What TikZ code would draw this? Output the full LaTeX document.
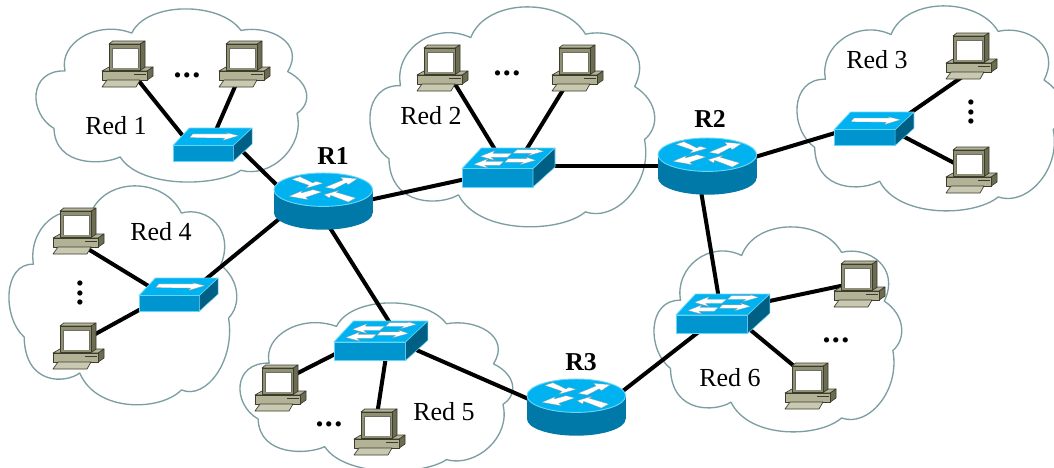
\documentclass[tikz,border=0pt]{standalone}
\usepackage{fontspec}
\setmainfont{Liberation Serif}
\definecolor{cloudc}{HTML}{7C9EA3}
\definecolor{swtop}{HTML}{00B2F0}
\definecolor{swfront}{HTML}{0095CF}
\definecolor{swside}{HTML}{005F85}
\definecolor{swedge}{HTML}{66D6F8}
\definecolor{rtside}{HTML}{0078A8}
\definecolor{pcline}{HTML}{3C3C2C}
\definecolor{pctop}{HTML}{B4B49A}
\definecolor{pcfront}{HTML}{8F8F74}
\definecolor{pcside}{HTML}{6C6C54}
\definecolor{pcbase}{HTML}{B2B297}
\definecolor{pckey}{HTML}{C9C9B2}
\tikzset{
  cloudline/.style={draw=cloudc,line width=1pt,fill=white,line join=round},
  wire/.style={draw=black,line width=3pt},
  lbl/.style={font=\fontsize{19.5}{21}\selectfont,inner sep=0pt},
  rlbl/.style={font=\fontsize{19.3}{21}\selectfont\bfseries,inner sep=0pt},
  dotlbl/.style={font=\fontsize{24}{25}\selectfont\bfseries,inner sep=0pt,outer sep=0pt},
  compbox/.style={anchor=north west,inner sep=0pt,outer sep=0pt,minimum width=38.25pt,minimum height=34.5pt},
  swbox/.style={anchor=north west,inner sep=0pt,outer sep=0pt,minimum width=#1*0.75pt,minimum height=#1*0.315pt},
  routerbox/.style={anchor=north west,inner sep=0pt,outer sep=0pt,minimum width=74pt,minimum height=42.5pt},
  pcpart/.style={draw=pcline,line width=0.5pt,line join=round},
  swarrow/.style={fill=white,draw=black!45,line width=0.15pt},
  computer/.pic={
    \path[pcpart,fill=pctop] (0,30)--(7,26)--(51,26)--(45.3,30)--cycle;
    \path[pcpart,fill=pcside] (45.3,30)--(51,26)--(51,35)--(45.3,39)--cycle;
    \path[pcpart,fill=pcbase] (0,30) rectangle (45.3,39);
    \path[pcpart,fill=pckey] (0,46)--(5,39)--(38,39)--(34,46)--cycle;
    \draw[pcline,line width=0.8pt] (32,33.7)--(44,33.7);
    \path[pcpart,fill=pctop] (7,3)--(10.7,0)--(43,0)--(38.3,3)--cycle;
    \path[pcpart,fill=pcside] (38.3,3)--(43,0)--(43,26.3)--(38.3,29.3)--cycle;
    \path[pcpart,fill=pcfront] (7,3) rectangle (38.3,29.3);
    \fill[pcline!75!white] (9.5,6.5) rectangle (36.5,27);
    \fill[white] (10.5,7.5) rectangle (36,26.5);
  },
  switchbody/.pic={
    \path[draw=swedge,line width=0.6pt,fill=swtop,line join=round] (19.3,0)--(93,0)--(71,20.7)--(0,20.7)--cycle;
    \path[draw=swedge,line width=0.6pt,fill=swfront,line join=round] (0,20.7) rectangle (71,39);
    \path[draw=swedge,line width=0.4pt,fill=swside,line join=round] (71,20.7)--(93,0)--(93,19)--(71,39)--cycle;
  },
  switchone/.pic={
    \pic[transform shape] {switchbody};
    \path[swarrow] (23.2,7)--(64.4,7)--(62.7,5.5)--(77.3,9)--(58.8,14.5)--(60.8,11.8)--(19.6,11.4)--cycle;
  },
  switchfour/.pic={
    \pic[transform shape] {switchbody};
    \path[swarrow] (18.3,8.3)--(32.7,2.7)--(31,5.3)--(50,5.3)--(45.3,9.3)--(29.3,9.3)--(32.7,12.3)--cycle;
    \path[swarrow] (81.7,3.3)--(72.7,0.6)--(73.7,1.7)--(55,1.7)--(51,5.3)--(69.3,5.3)--(66,7.7)--cycle;
    \path[swarrow] (11.7,16.3)--(26,10.7)--(23.7,13.3)--(41.7,13.3)--(37.7,17.3)--(22.7,17.3)--(26,20)--cycle;
    \path[swarrow] (73.7,12.3)--(63.7,9)--(65,10.7)--(46,10.7)--(42.7,14.3)--(61,14.3)--(57.7,16.7)--cycle;
  },
  router/.pic={
    \fill[rtside] (0,16.7) rectangle (98.6,40);
    \fill[rtside] (49.3,40) ellipse [x radius=49.3,y radius=16.7];
    \path[fill=swtop,draw=swedge,line width=0.7pt] (49.3,16.7) ellipse [x radius=49.3,y radius=16.7];
    \path[swarrow] (17.7,6.3)--(26,3.7)--(39,10)--(41.7,8.3)--(49,10.3)--(31.7,15.3)--(35,12.3)--cycle;
    \path[swarrow] (51,14.3)--(69,7)--(66.7,4.3)--(83.3,5.7)--(74.3,11.7)--(72.3,9.7)--(60.3,16)--cycle;
    \path[swarrow] (15,23.3)--(28.3,17.7)--(27.3,20)--(39,16.7)--(47.7,19)--(31.7,24.3)--(34.3,26.7)--cycle;
    \path[swarrow] (50,21.7)--(65,17.3)--(62.3,19.3)--(81.7,25)--(74.3,29)--(56.7,22.3)--(55.7,25)--cycle;
  },
}
\newcommand{\cloudat}[4]{%
  \pgfmathsetmacro{\csx}{(#3-#1)/812}%
  \pgfmathsetmacro{\csy}{(#4-#2)/520}%
  \begin{scope}[shift={(#1,#2)},xscale=\csx,yscale=\csy,shift={(-18,-28)}]
    \path[cloudline] (105,213) .. controls (85,130) and (200,60) .. (305,100)
      .. controls (350,5) and (570,5) .. (632,92)
      .. controls (720,75) and (825,130) .. (772,215)
      .. controls (840,250) and (845,310) .. (800,340)
      .. controls (825,440) and (720,535) .. (632,510)
      .. controls (560,560) and (330,565) .. (270,470)
      .. controls (220,495) and (75,500) .. (72,385)
      .. controls (-5,340) and (-5,210) .. cycle;
  \end{scope}}
\newcommand{\conn}[6]{\draw[wire] ([shift={(#2,#3)}]#1.north west) -- ([shift={(#5,#6)}]#4.north west);}
\newcommand{\threedots}{.\kern1pt.\kern1pt.}
\begin{document}
\begin{tikzpicture}[x=0.75pt,y=-0.75pt]
\fill[white] (0,0) rectangle (1054,468);
\clip[use as bounding box] (0,0) rectangle (1054,468);
% clouds
\cloudat{36}{9}{307}{183}
\cloudat{370}{7}{655}{228}
\cloudat{797}{6}{1063}{212}
\cloudat{9}{186}{237}{406}
\cloudat{240}{303}{513}{472}
\cloudat{654}{227}{902}{433}
% device nodes
\node[compbox] (c1a) at (102,41) {};
\node[compbox] (c1b) at (219,41) {};
\node[compbox] (c2a) at (417,45) {};
\node[compbox] (c2b) at (552,45) {};
\node[compbox] (c3a) at (946,33) {};
\node[compbox] (c3b) at (946,147) {};
\node[compbox] (c4a) at (53,208) {};
\node[compbox] (c4b) at (53,323) {};
\node[compbox] (c5a) at (255,365) {};
\node[compbox] (c5b) at (354,409) {};
\node[compbox] (c6a) at (834,261) {};
\node[compbox] (c6b) at (785,363) {};
\node[swbox=79] (s1) at (173,128) {};
\node[swbox=93] (s2) at (462,148) {};
\node[swbox=79] (s3) at (834,112) {};
\node[swbox=79] (s4) at (139,278) {};
\node[swbox=94] (s5) at (334,321) {};
\node[swbox=94] (s6) at (676,294) {};
\node[routerbox] (r1) at (274,173) {};
\node[routerbox] (r2) at (658,138) {};
\node[routerbox] (r3) at (527,379) {};
% connectors
\conn{c1a}{36}{39}{s1}{18}{18}
\conn{c1b}{18}{41}{s1}{40}{9}
\conn{s1}{62}{16}{r1}{16}{25}
\conn{r1}{16}{37}{s4}{56}{10}
\conn{r1}{51}{47}{s5}{56}{2}
\conn{r1}{86}{29}{s2}{13}{29}
\conn{s2}{85}{18}{r2}{12}{28}
\conn{c2a}{38}{39}{s2}{40}{13}
\conn{c2b}{14}{40}{s2}{58}{12}
\conn{r2}{87}{22}{s3}{11}{18}
\conn{c3a}{16}{44}{s3}{66}{8}
\conn{c3b}{12}{18}{s3}{61}{20}
\conn{r2}{42}{47}{s6}{44}{11}
\conn{c4a}{35}{41}{s4}{21}{15}
\conn{c4b}{37}{14}{s4}{11}{26}
\conn{c5a}{35}{12}{s5}{11}{28}
\conn{c5b}{23}{6}{s5}{53}{29}
\conn{s5}{71}{24}{r3}{13}{25}
\conn{r3}{83}{22}{s6}{29}{33}
\conn{c6a}{16}{23}{s6}{84}{9}
\conn{c6b}{15}{8}{s6}{66}{29}
% devices
\foreach \n in {c1a,c1b,c2a,c2b,c3a,c3b,c4a,c4b,c5a,c5b,c6a,c6b} {\pic at (\n.north west) {computer};}
\pic[scale=0.85,transform shape] at (s1.north west) {switchone};
\pic[scale=0.86,transform shape] at (s3.north west) {switchone};
\pic[scale=0.85,transform shape] at (s4.north west) {switchone};
\pic at (s2.north west) {switchfour};
\pic[scale=1.01,transform shape] at (s5.north west) {switchfour};
\pic[scale=1.01,transform shape] at (s6.north west) {switchfour};
\foreach \n in {r1,r2,r3} {\pic at (\n.north west) {router};}
% labels
\node[lbl] (l1) at (116,126) {Red 1};
\node[lbl] (l2) at (431,116) {Red 2};
\node[lbl] (l3) at (877,60) {Red 3};
\node[lbl] (l4) at (161,232) {Red 4};
\node[lbl] (l5) at (444,412) {Red 5};
\node[lbl] (l6) at (730,378) {Red 6};
\node[rlbl] (lr1) at (333,156) {R1};
\node[rlbl] (lr2) at (710,119) {R2};
\node[rlbl] (lr3) at (581,362) {R3};
\node[dotlbl] (d1) at (187,75) {\threedots};
\node[dotlbl] (d2) at (507,73) {\threedots};
\node[dotlbl,rotate=90] (d3) at (971,112) {\threedots};
\node[dotlbl,rotate=90] (d4) at (80,293) {\threedots};
\node[dotlbl] (d5) at (329,424) {\threedots};
\node[dotlbl] (d6) at (836,340) {\threedots};
\end{tikzpicture}
\end{document}
